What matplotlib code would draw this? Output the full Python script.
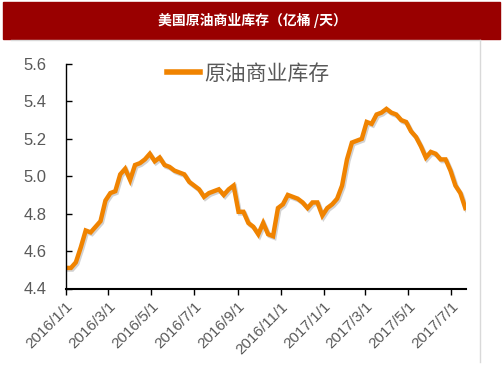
import numpy as np
import pandas as pd
import matplotlib
matplotlib.use("Agg")
from matplotlib import pyplot as plt
import matplotlib.patheffects as pe
from matplotlib.lines import Line2D
from matplotlib.patches import Rectangle

plt.rcParams['font.family'] = ['Noto Sans CJK SC', 'DejaVu Sans']

# 周度数据, 2016/1/1 起
start = "2016-01-01"
stock = [4.51, 4.51, 4.54, 4.62, 4.71, 4.70, 4.73, 4.76, 4.87, 4.91,
         4.92, 5.01, 5.04, 4.98, 5.06, 5.07, 5.09, 5.12, 5.08, 5.10,
         5.06, 5.05, 5.03, 5.02, 5.01, 4.97, 4.95, 4.93, 4.89, 4.91,
         4.92, 4.93, 4.90, 4.93, 4.95, 4.81, 4.81, 4.75, 4.73, 4.69,
         4.75, 4.69, 4.68, 4.83, 4.85, 4.90, 4.89, 4.88, 4.86, 4.83,
         4.86, 4.86, 4.79, 4.83, 4.85, 4.88, 4.95, 5.09, 5.18, 5.19,
         5.20, 5.29, 5.28, 5.33, 5.34, 5.36, 5.34, 5.33, 5.30, 5.29,
         5.24, 5.21, 5.16, 5.10, 5.13, 5.12, 5.09, 5.09, 5.03, 4.95,
         4.91, 4.83]
dates = pd.date_range(start, periods=len(stock), freq="7D")

tick_dates = pd.to_datetime(["2016-01-01", "2016-03-01", "2016-05-01", "2016-07-01",
                             "2016-09-01", "2016-11-01", "2017-01-01", "2017-03-01",
                             "2017-05-01", "2017-07-01"])
tick_labels = ["2016/1/1", "2016/3/1", "2016/5/1", "2016/7/1", "2016/9/1",
               "2016/11/1", "2017/1/1", "2017/3/1", "2017/5/1", "2017/7/1"]
yticks = [4.4, 4.6, 4.8, 5.0, 5.2, 5.4, 5.6]

title = "美国原油商业库存（亿桶 /天）"
label = "原油商业库存"
orange = "#F08300"
grey = "#595959"

W, H = 503, 378
fig = plt.figure(figsize=(W / 100, H / 100), dpi=100)

# 标题栏
fig.patches.append(Rectangle((3 / W, 1 - 39 / H), 497 / W, 37 / H,
                             transform=fig.transFigure, color="#990000", zorder=0))
fig.text(252 / W, 1 - 20 / H, title, color="white", fontsize=10, fontweight="bold",
         ha="center", va="center")
# 外框
fig.add_artist(Line2D([11 / W, 480 / W], [1 - 40 / H, 1 - 40 / H], transform=fig.transFigure,
                      color="#D9D9D9", lw=1))
fig.add_artist(Line2D([480 / W, 480 / W], [1 - 40 / H, 1 - 362 / H], transform=fig.transFigure,
                      color="#D9D9D9", lw=1))

ax = fig.add_axes([66 / W, 1 - 288.5 / H, 400 / W, (288.5 - 64) / H])
ax.plot(dates, stock, color=orange, lw=3.2, solid_joinstyle="miter",
        path_effects=[pe.SimpleLineShadow(offset=(1, -1.2), shadow_color="gray", alpha=0.35),
                      pe.Normal()], label=label)

ax.set_ylim(4.4, 5.6)
ax.set_yticks(yticks)
ax.set_yticklabels(["%.1f" % v for v in yticks])
ax.set_xlim(dates[0], dates[-1] + pd.Timedelta(days=1))
ax.set_xticks(tick_dates)
ax.set_xticklabels(tick_labels, rotation=45, ha="right", rotation_mode="anchor")

for s in ["top", "right"]:
    ax.spines[s].set_visible(False)
ax.spines["left"].set_linewidth(1.0)
ax.spines["bottom"].set_linewidth(1.5)
ax.tick_params(axis="y", direction="in", length=4, labelsize=12, labelcolor=grey,
               pad=14, width=1)
ax.tick_params(axis="x", direction="out", length=4, labelsize=11, labelcolor=grey,
               pad=4, width=1)
for t in ax.get_xticklabels() + ax.get_yticklabels():
    t.set_family(["Liberation Sans", "DejaVu Sans"])

leg = ax.legend(loc="upper center", bbox_to_anchor=(0.455, 1.09), frameon=False,
                fontsize=15, handlelength=1.6, handletextpad=0.2, labelcolor=grey)
leg.get_lines()[0].set_linewidth(4)
leg.get_lines()[0].set_path_effects([])

fig.savefig("out.png", dpi=100)
